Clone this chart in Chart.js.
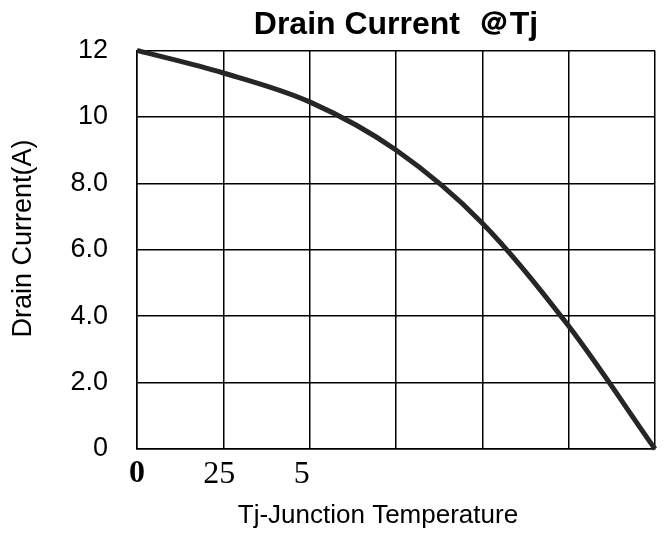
<!DOCTYPE html>
<html>
<head>
<meta charset="utf-8">
<script src="https://cdn.jsdelivr.net/npm/chart.js@4.4.1/dist/chart.umd.min.js"></script>
<style>
  html, body { margin: 0; padding: 0; background: #fff; }
</style>
</head>
<body>
<canvas id="grafico" width="670" height="533"></canvas>
<script>
// Pontos (temperatura x corrente), nas linhas verticais da grade
const temperaturas = [0, 25, 50, 75, 100, 125, 150];
const correntes = [12, 11.32, 10.45, 9.0, 6.8, 3.7, 0];

// Rótulos dos eixos como aparecem no gráfico original
const rotulosX = ['0', '25 ', '5  ', '', '', '', ''];
const rotulosY = ['0', '2.0', '4.0', '6.0', '8.0', '10', '12'];

const fonteSans = '"Liberation Sans", Arial, sans-serif';
const fonteSerif = '"Liberation Serif", "Times New Roman", serif';

const pontos = temperaturas.map((t, i) => ({ x: t, y: correntes[i] }));

const ctx = document.getElementById('grafico').getContext('2d');
const grafico = new Chart(ctx, {
    type: 'line',
    data: {
        datasets: [{
            data: pontos,
            borderColor: '#262626',
            borderWidth: 5,
            pointRadius: 0,
            cubicInterpolationMode: 'monotone',
            fill: false,
            clip: false
        }]
    },
    options: {
        responsive: false,
        animation: false,
        devicePixelRatio: 1,
        layout: { padding: { left: 0, right: 15, top: 0, bottom: 0 } },
        plugins: {
            legend: { display: false },
            tooltip: { enabled: false },
            title: {
                display: true,
                text: 'Drain Current  ＠Tj',
                color: '#000',
                fullSize: false,
                font: { family: fonteSans, size: 32, weight: 'bold', lineHeight: 1.2 },
                padding: { top: 6, bottom: 6 }
            }
        },
        scales: {
            x: {
                type: 'linear',
                min: 0,
                max: 150,
                ticks: {
                    stepSize: 25,
                    autoSkip: false,
                    maxRotation: 0,
                    color: '#000',
                    padding: 6,
                    font: (c) => ({ family: fonteSerif, size: 32, weight: c.index === 0 ? 'bold' : 'normal' }),
                    callback: (v, i) => rotulosX[i] ?? ''
                },
                grid: { color: '#000', lineWidth: 1.5, drawTicks: false },
                border: { color: '#000', width: 1.5 },
                title: {
                    display: true,
                    text: 'Tj-Junction Temperature     ',
                    color: '#000',
                    font: { family: fonteSans, size: 26 },
                    padding: { top: 0, bottom: 2 }
                },
                afterFit: (s) => { s.height = 84; }
            },
            y: {
                min: 0,
                max: 12,
                ticks: {
                    stepSize: 2,
                    color: '#000',
                    padding: 29,
                    font: { family: fonteSans, size: 27 },
                    callback: (v, i) => rotulosY[i]
                },
                grid: { color: '#000', lineWidth: 1.5, drawTicks: false },
                border: { color: '#000', width: 1.5 },
                title: {
                    display: true,
                    text: '   Drain Current(A)',
                    color: '#000',
                    font: { family: fonteSans, size: 27 },
                    padding: { top: 7, bottom: 0 }
                },
                afterFit: (s) => { s.width = 137; }
            }
        }
    }
});
</script>
</body>
</html>
